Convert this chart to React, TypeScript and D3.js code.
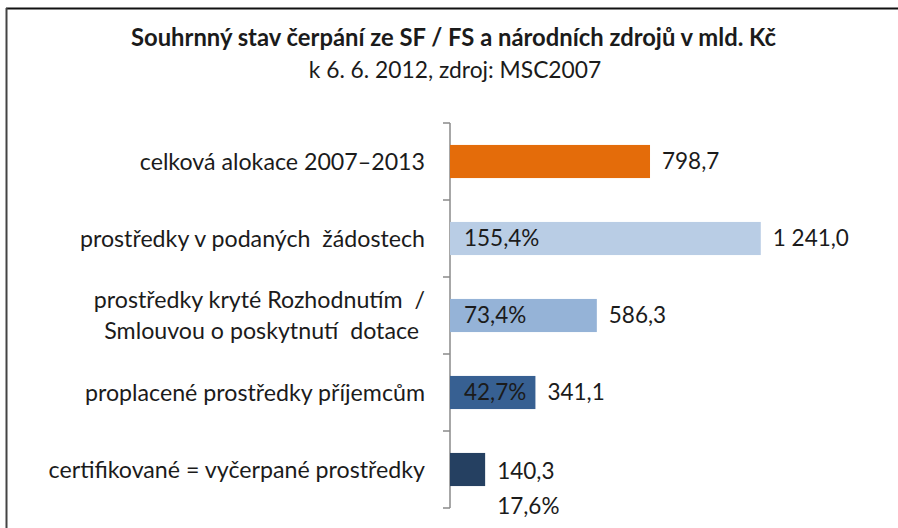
import React from "react";
import * as d3 from "d3";

const titleText = "Souhrnný stav čerpání ze SF / FS a národních zdrojů v mld. Kč";
const subtitleText = "k 6. 6. 2012, zdroj: MSC2007";

const categories = ["alokace", "zadosti", "smlouvy", "proplacene", "certifikovane"];
const categoryLines = [
  ["celková alokace 2007–2013"],
  ["prostředky v podaných  žádostech"],
  ["prostředky kryté Rozhodnutím  /", "Smlouvou o poskytnutí  dotace "],
  ["proplacené prostředky příjemcům"],
  ["certifikované = vyčerpané prostředky"],
];
const values = [798.7, 1241.0, 586.3, 341.1, 140.3];
const shares: (number | null)[] = [null, 155.4, 73.4, 42.7, 17.6];
const colors = ["#E46C0A", "#B9CDE5", "#95B3D7", "#376092", "#254061"];

const W = 898;
const H = 528;
const FONT = "Lato, 'Open Sans', sans-serif";
const TEXT = "#1b1b1b";

const locale = d3.formatLocale({ decimal: ",", thousands: " ", grouping: [3], currency: ["", " Kč"] });
const fmtVal = locale.format(",.1f");
const fmtPct = (v: number) => locale.format(".1f")(v) + "%";

export default function App() {
  const y = d3.scaleBand<string>().domain(categories).range([123, 508]).paddingInner(0).paddingOuter(0);
  const x = d3.scaleLinear().domain([0, 1400]).range([450, 800.6]);
  const barH = y.bandwidth() * 0.43;
  const ticks = [...categories.map((c) => y(c)!), y.range()[1]];
  const fs = 23.2;

  return (
    <svg width={W} height={H} style={{ position: "absolute", left: 0, top: 0, background: "#fff" }} fontFamily={FONT}>
      <rect x={0} y={0} width={W} height={H} fill="#fff" />
      {/* frame */}
      <line x1={6} x2={W} y1={8.5} y2={8.5} stroke="#111" strokeWidth={2} />
      <line x1={6.5} x2={6.5} y1={8} y2={H} stroke="#444" strokeWidth={2} />

      <text x={453.5} y={46} textAnchor="middle" fontSize={23.8} fontWeight={700} fill={TEXT}>
        {titleText}
      </text>
      <text x={455} y={78} textAnchor="middle" fontSize={22.8} fill={TEXT}>
        {subtitleText}
      </text>

      {/* axis */}
      <line x1={x(0)} x2={x(0)} y1={y.range()[0]} y2={y.range()[1]} stroke="#8a8a8a" strokeWidth={1.5} />
      {ticks.map((t, i) => (
        <line key={i} x1={x(0) - 7} x2={x(0)} y1={t} y2={t} stroke="#8a8a8a" strokeWidth={1.5} />
      ))}

      {categories.map((c, i) => {
        const cy = y(c)! + y.bandwidth() / 2;
        const lines = categoryLines[i];
        const lh = 31;
        const x1 = x(values[i]);
        const last = i === categories.length - 1;
        return (
          <g key={c}>
            {lines.map((ln, j) => (
              <text
                key={j}
                x={425}
                y={cy + (j - (lines.length - 1) / 2) * lh}
                dy="0.35em"
                textAnchor="end"
                fontSize={fs}
                fill={TEXT}
                style={{ whiteSpace: "pre" }}
              >
                {ln}
              </text>
            ))}
            <rect x={x(0)} y={cy - barH / 2} width={x1 - x(0)} height={barH} fill={colors[i]} />
            <text x={x1 + 12} y={cy + (last ? 2 : 0)} dy="0.35em" fontSize={22.5} fill={TEXT}>
              {fmtVal(values[i])}
            </text>
            {shares[i] != null && !last && (
              <text x={x(0) + 14} y={cy} dy="0.35em" fontSize={22.5} fill={TEXT}>
                {fmtPct(shares[i]!)}
              </text>
            )}
            {shares[i] != null && last && (
              <text x={x1 + 12} y={cy + 37} dy="0.35em" fontSize={22.5} fill={TEXT}>
                {fmtPct(shares[i]!)}
              </text>
            )}
          </g>
        );
      })}
    </svg>
  );
}
